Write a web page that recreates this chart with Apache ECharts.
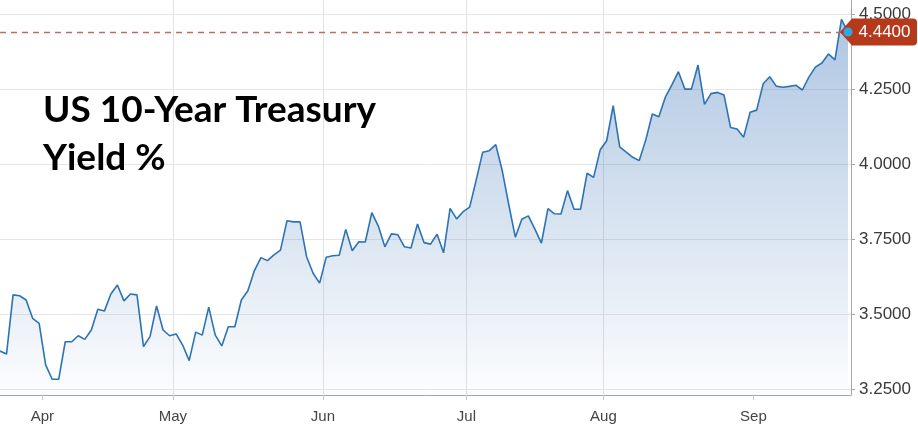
<!DOCTYPE html>
<html><head><meta charset="utf-8">
<script src="https://cdn.jsdelivr.net/npm/echarts@6/dist/echarts.min.js"></script>
<style>html,body{margin:0;padding:0;background:#fff}#c{width:918px;height:438px}</style>
</head><body><div id="c"></div>
<script>
// Daily closing yields (%), one value per trading day, late March -> Sep 22
const yields = [
  3.378, 3.368, 3.565, 3.562, 3.548, 3.487, 3.470,
  3.332, 3.284, 3.284, 3.409, 3.409, 3.429, 3.417, 3.448, 3.517, 3.511,
  3.568, 3.598, 3.545, 3.568, 3.565, 3.393, 3.426, 3.528, 3.448, 3.429,
  3.435, 3.398, 3.346, 3.441, 3.431, 3.524, 3.431, 3.395, 3.459, 3.459,
  3.548, 3.579, 3.646, 3.689, 3.679, 3.698, 3.714, 3.812, 3.808, 3.808,
  3.692, 3.637, 3.604, 3.690, 3.695, 3.697, 3.783, 3.712, 3.742, 3.741,
  3.839, 3.794, 3.725, 3.768, 3.765, 3.725, 3.721, 3.801, 3.739, 3.734,
  3.767, 3.705, 3.853, 3.818, 3.842, 3.857, 3.947, 4.040, 4.045, 4.065,
  3.978, 3.865, 3.757, 3.817, 3.828, 3.784, 3.737, 3.852, 3.835, 3.834,
  3.912, 3.850, 3.850, 3.970, 3.956, 4.047, 4.078, 4.195, 4.058, 4.040,
  4.023, 4.012, 4.081, 4.167, 4.158, 4.223, 4.264, 4.308, 4.250, 4.250,
  4.330, 4.199, 4.235, 4.239, 4.230, 4.122, 4.117, 4.090, 4.173, 4.180,
  4.268, 4.291, 4.260, 4.256, 4.259, 4.263, 4.247, 4.290, 4.323, 4.337,
  4.367, 4.347, 4.482, 4.440
];
// Month names and the index of each month's first trading day in `yields`
const monthLabels = ['Apr', 'May', 'Jun', 'Jul', 'Aug', 'Sep'];
const monthStartIdx = [7, 27, 50, 72, 93, 116];
// Right-hand axis tick values
const yTickMin = 3.25, yTickMax = 4.5, yTickStep = 0.25;
const titleText = 'US 10-Year Treasury\nYield %';

const lastIdx = yields.length - 1;
const lastValue = yields[lastIdx];
const monthTicks = monthStartIdx.map(i => i - 0.5);
const seriesData = yields.map((v, i) => [i, v]);

const chart = echarts.init(document.getElementById('c'), null, {renderer: 'canvas'});
chart.setOption({
  animation: false,
  backgroundColor: '#ffffff',
  title: {
    text: titleText, left: 38, top: 81,
    textStyle: {fontFamily: 'Lato', fontWeight: 'bold', fontSize: 37, lineHeight: 48, color: '#000'}
  },
  grid: [
    {left: 0, right: 67, top: 0, bottom: 43},
    {left: 0, right: 67, top: 14, bottom: 48.5}
  ],
  xAxis: [
    {
      gridIndex: 0, type: 'value', min: 0, max: 130.46,
      axisLine: {show: true, onZero: false, lineStyle: {color: '#a6a6a6', width: 1}},
      axisTick: {show: true, customValues: monthTicks, length: 5, lineStyle: {color: '#c8c8c8'}},
      axisLabel: {
        customValues: monthTicks, color: '#444', fontSize: 15, margin: 14,
        fontFamily: '"Liberation Sans Narrow", "Liberation Sans", Arial, sans-serif',
        formatter: v => {
          let best = 0;
          monthTicks.forEach((t, k) => { if (Math.abs(t - v) < Math.abs(monthTicks[best] - v)) best = k; });
          return monthLabels[best];
        }
      },
      splitLine: {show: true, showMinLine: false, showMaxLine: false, lineStyle: {color: '#e2e2e2', width: 1}}
    },
    {gridIndex: 1, type: 'value', min: 0, max: 1, show: false, axisLine: {onZero: false}}
  ],
  yAxis: [
    {
      gridIndex: 0, type: 'value', position: 'right', min: 3.2317, max: 4.5466,
      axisLine: {show: true, onZero: false, lineStyle: {color: '#a6a6a6'}},
      axisTick: {show: false}, axisLabel: {show: false}, splitLine: {show: false}
    },
    {
      gridIndex: 1, type: 'value', position: 'right',
      min: yTickMin, max: yTickMax, interval: yTickStep,
      axisLine: {show: false, onZero: false},
      axisTick: {show: true, length: 4, lineStyle: {color: '#a6a6a6'}},
      axisLabel: {formatter: v => v.toFixed(4), color: '#3a3a3a', fontSize: 17, margin: 8,
        fontFamily: '"Liberation Sans", Arial, sans-serif'},
      splitLine: {show: true, lineStyle: {color: '#e6e6e6', width: 1}}
    }
  ],
  series: [
    {
      type: 'line', xAxisIndex: 0, yAxisIndex: 0, data: seriesData,
      symbol: 'none', showSymbol: false, z: 3,
      lineStyle: {color: '#2c73b4', width: 1.6},
      areaStyle: {
        origin: 'start',
        color: new echarts.graphic.LinearGradient(0, 0, 0, 1, [
          {offset: 0, color: 'rgba(50,110,180,0.56)'},
          {offset: 1, color: 'rgba(50,110,180,0.02)'}
        ])
      },
      markLine: {
        symbol: 'none', silent: true, label: {show: false},
        lineStyle: {type: [6, 5], color: '#c36a5c', width: 1.3},
        data: [{yAxis: lastValue}]
      }
    },
    {
      type: 'scatter', xAxisIndex: 0, yAxisIndex: 0, clip: false, z: 5,
      data: [[lastIdx, lastValue]],
      symbol: 'path://M0,13.5L12,0L73,0Q77,0,77,4L77,23Q77,27,73,27L12,27Z',
      symbolSize: [77, 27], symbolOffset: [30.5, 0],
      itemStyle: {color: '#b5391b', opacity: 1},
      label: {
        show: true, position: 'inside', offset: [6, 0],
        formatter: () => lastValue.toFixed(4),
        color: '#fff', fontSize: 17, fontFamily: '"Liberation Sans", Arial, sans-serif'
      }
    },
    {
      type: 'scatter', xAxisIndex: 0, yAxisIndex: 0, clip: false, z: 6,
      data: [[lastIdx, lastValue]],
      symbol: 'circle', symbolSize: 9,
      itemStyle: {color: '#2fa7e4', opacity: 1}
    }
  ]
});
</script>
</body></html>
